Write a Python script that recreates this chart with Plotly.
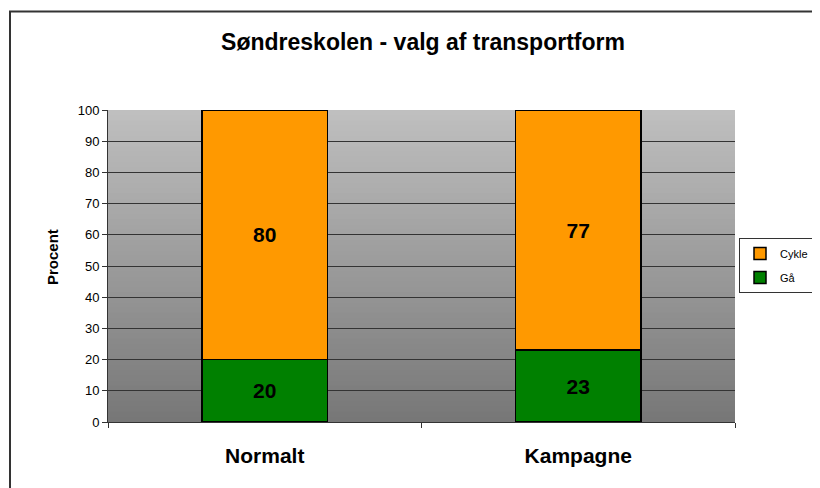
import plotly.graph_objects as go

categories = ["Normalt", "Kampagne"]
gaa = [20, 23]
cykle = [80, 77]

FONT = "Liberation Sans, Arial"
FIG_W, FIG_H = 840, 488
PLOT_W, PLOT_H = 627, 312
L, T, B = 100, 102, 74
R = FIG_W - L - PLOT_W

fig = go.Figure()
fig.add_trace(go.Bar(name="Gå", x=categories, y=gaa, text=gaa, legendrank=2, legendgroup="gaa",
                     marker=dict(color="#008000", line=dict(color="black", width=1.5))))
fig.add_trace(go.Bar(name="Cykle", x=categories, y=cykle, text=cykle, legendrank=1,
                     legendgroup="cykle",
                     marker=dict(color="#FF9900", line=dict(color="black", width=1.5))))
fig.update_traces(textposition="inside", insidetextanchor="middle", constraintext="none",
                  textfont=dict(family=FONT, size=21, color="black", weight="bold"),
                  width=0.4)

# grey gradient behind the plot area (light at top, dark at bottom)
shapes = []
n = 60
for i in range(n):
    g = int(119 + (192 - 119) * (i + 0.5) / n)
    shapes.append(dict(type="rect", xref="paper", yref="paper", x0=0, x1=1,
                       y0=i / n, y1=min(1, (i + 1.6) / n), layer="below", line_width=0,
                       fillcolor="rgb({0},{0},{0})".format(g)))
# outer chart frame
shapes.append(dict(type="rect", xref="paper", yref="paper",
                   x0=(2 - L) / PLOT_W, x1=1 + (R + 10) / PLOT_W,
                   y0=-(B + 10) / PLOT_H, y1=1 + (T - 3.5) / PLOT_H,
                   line=dict(color="#333333", width=2), fillcolor="rgba(0,0,0,0)", layer="below"))

fig.update_layout(
    width=FIG_W, height=FIG_H,
    margin=dict(l=L, r=R, t=T, b=B),
    paper_bgcolor="white", plot_bgcolor="rgba(0,0,0,0)",
    barmode="stack", shapes=shapes,
    font=dict(family=FONT, color="black"),
    title=dict(text="<b>Søndreskolen - valg af transportform</b>", x=(423 - 8) / FIG_W,
               xanchor="center", y=1 - 34 / FIG_H, yanchor="middle", font=dict(size=23)),
    legend=dict(x=(731 - L) / PLOT_W, y=0.502, xanchor="left", yanchor="middle",
                traceorder="grouped", tracegroupgap=5,
                bordercolor="#333333", borderwidth=1, bgcolor="white",
                font=dict(size=11)),
    showlegend=True,
    annotations=[dict(text="<b>Procent</b>", textangle=-90, xref="paper", yref="paper",
                      x=(44 - L) / PLOT_W, y=(414 - 249) / PLOT_H, xanchor="center",
                      yanchor="middle", showarrow=False, font=dict(size=15))],
)
fig.update_yaxes(range=[0, 100], dtick=10, showgrid=True, gridcolor="#333333", gridwidth=1,
                 showline=True, linecolor="#333333", linewidth=1, ticks="outside", ticklen=5,
                 tickcolor="#333333", tickfont=dict(size=13), zeroline=False)
fig.update_xaxes(showline=True, linecolor="#333333", linewidth=1, ticks="outside", ticklen=5,
                 tickson="boundaries", tickcolor="#333333", ticklabelstandoff=15,
                 tickfont=dict(size=21, weight="bold"))

fig.write_html("out.html")
